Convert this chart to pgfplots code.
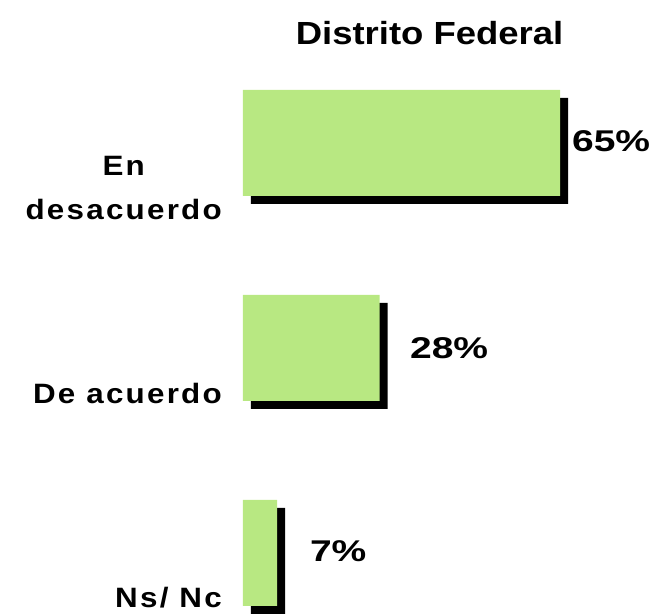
\documentclass[border=0pt]{standalone}
\usepackage{fontspec}
\setmainfont{Liberation Sans}
\newfontfamily\titlefont[FakeStretch=1.14]{Liberation Sans Bold}
\newfontfamily\catfont[FakeStretch=1.12,LetterSpace=8]{Liberation Sans Bold}
\newfontfamily\valfont[FakeStretch=1.3]{Liberation Sans Bold}
\usepackage{pgfplots}
\pgfplotsset{compat=1.18}
\usetikzlibrary{calc}
\definecolor{barg}{RGB}{184,232,130}

\begin{document}
\begin{tikzpicture}
\begin{axis}[
  x=4.88pt, y=205pt,
  xmin=0, xmax=80, ymin=-0.3, ymax=2.5,
  axis line style={draw=none},
  xtick=\empty, ytick={0,1,2}, major tick length=0pt,
  yticklabels={Ns/ Nc, De acuerdo, {En\\desacuerdo}},
  yticklabel style={anchor=east, align=center, inner sep=0pt, xshift=-21pt, yshift=-45pt,
    font=\catfont\fontsize{28}{44}\selectfont},
  title={Distrito Federal},
  title style={at={(0.478,1)}, anchor=base, yshift=-10.5pt,
    font=\titlefont\fontsize{32}{38}\selectfont},
  clip=false,
]
% shadow
\addplot[xbar, bar width=106pt, bar shift=0pt, fill=black, draw=none, xshift=8pt, yshift=-8pt]
  coordinates {(65,2) (28,1) (7,0)};
% bars
\addplot[xbar, bar width=106pt, bar shift=0pt, fill=barg, draw=none]
  coordinates {(65,2) (28,1) (7,0)};
% value labels
\addplot[only marks, mark=none, point meta=explicit symbolic, nodes near coords,
  every node near coord/.append style={anchor=west, inner sep=0pt,
    font=\valfont\fontsize{30}{36}\selectfont}]
  coordinates {(67.4,2.01)[65\%] (34.2,1.0)[28\%] (13.7,0.01)[7\%]};
\end{axis}
\pgfresetboundingbox
\path[use as bounding box] ($(current axis.south west)+(-243pt,1.5pt)$) rectangle ($(current axis.south west)+(410pt,614.5pt)$);
\end{tikzpicture}
\end{document}
